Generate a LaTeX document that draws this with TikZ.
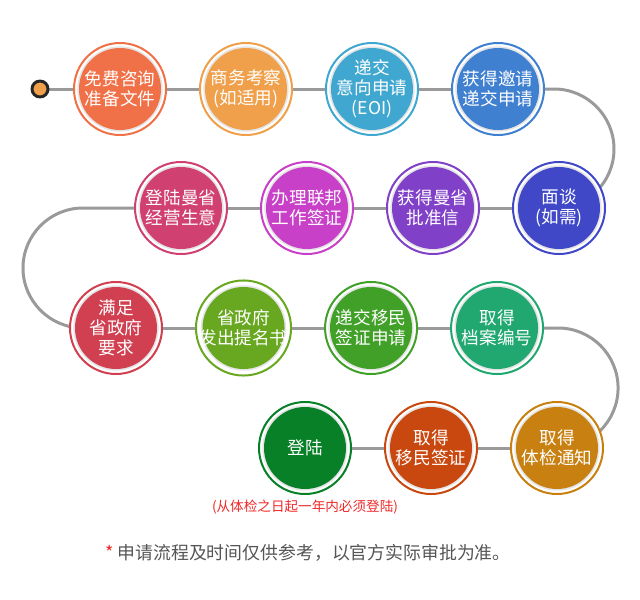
\documentclass[tikz,border=0pt]{standalone}
\usepackage{fontspec}
\newfontfamily\cjk{Noto Sans CJK SC}
\definecolor{stepFree}{HTML}{F07048}
\definecolor{stepBiz}{HTML}{F0A04A}
\definecolor{stepEoi}{HTML}{40A8D0}
\definecolor{stepInvite}{HTML}{4080D0}
\definecolor{stepInterview}{HTML}{4048C8}
\definecolor{stepLetter}{HTML}{8040C8}
\definecolor{stepFederal}{HTML}{C840C8}
\definecolor{stepBusiness}{HTML}{D04070}
\definecolor{stepMeet}{HTML}{D04050}
\definecolor{stepNominate}{HTML}{68A820}
\definecolor{stepApply}{HTML}{40A028}
\definecolor{stepFile}{HTML}{20A870}
\definecolor{stepMedical}{HTML}{C88010}
\definecolor{stepVisa}{HTML}{C84810}
\definecolor{stepLanding}{HTML}{088028}
\definecolor{lineGray}{HTML}{9A9A9A}
\definecolor{noteRed}{HTML}{F02828}
\definecolor{footGray}{HTML}{555555}
\usepackage{tikz}
\usetikzlibrary{positioning, backgrounds}

\begin{document}
\begin{tikzpicture}[
    x=0.75pt, y=-0.75pt,
    node distance=25.5pt,
    link/.style={draw=lineGray, line width=2.25pt},
    stepnode/.style={circle, draw=#1, line width=1.5pt, fill=white, minimum size=69pt, inner sep=0pt, outer sep=0pt,
      text=white, align=center, font=\cjk\fontsize{13.2}{15}\selectfont,
      path picture={
        \fill[black!10] (path picture bounding box.center) circle[radius=32pt];
        \fill[#1] (path picture bounding box.center) circle[radius=30.75pt];
      }}
  ]
  \useasboundingbox (0,0) rectangle (640,600);

  \node[circle, draw=black!85, line width=2.2pt, fill=stepBiz, minimum size=12pt, inner sep=0pt] (start) at (40,89) {};

  % row 1
  \node[stepnode=stepFree] (free) at (120,89) {免费咨询\\准备文件};
  \node[stepnode=stepBiz, right=of free] (biz) {商务考察\\(如适用)};
  \node[stepnode=stepEoi, right=of biz] (eoi) {递交\\意向申请\\(EOI)};
  \node[stepnode=stepInvite, right=of eoi] (invite) {获得邀请\\递交申请};

  % row 2
  \node[stepnode=stepInterview] (interview) at (559,208) {面谈\\(如需)};
  \node[stepnode=stepLetter, left=of interview] (letter) {获得曼省\\批准信};
  \node[stepnode=stepFederal, left=of letter] (federal) {办理联邦\\工作签证};
  \node[stepnode=stepBusiness, left=of federal] (business) {登陆曼省\\经营生意};

  % row 3
  \node[stepnode=stepMeet] (meet) at (116,328) {满足\\省政府\\要求};
  \node[stepnode=stepNominate, right=of meet] (nominate) {省政府\\发出提名书};
  \node[stepnode=stepApply, right=of nominate] (apply) {递交移民\\签证申请};
  \node[stepnode=stepFile, right=of apply] (file) {取得\\档案编号};

  % row 4
  \node[stepnode=stepMedical] (medical) at (557,448) {取得\\体检通知};
  \node[stepnode=stepVisa, left=of medical] (visa) {取得\\移民签证};
  \node[stepnode=stepLanding, left=of visa] (landing) {登陆};

  \node[below=1pt of landing, font=\cjk\fontsize{10.2}{12}\selectfont, text=noteRed] (note) {(从体检之日起一年内必须登陆)};
  \node[font=\cjk\fontsize{13.4}{15}\selectfont, text=footGray] (foot) at (308,553) {\textcolor{noteRed}{*} 申请流程及时间仅供参考，以官方实际审批为准。};

  \begin{scope}[on background layer]
    \draw[link] (start) -- (free) -- (biz) -- (eoi) -- (invite);
    \draw[link] (invite.east) -- ++(10,0) arc[start angle=-90, end angle=90, radius=60] -- (interview);
    \draw[link] (interview) -- (letter) -- (federal) -- (business);
    \draw[link] (business.west) -- ++(-52,0) arc[start angle=-90, end angle=-270, radius=60] -- (meet);
    \draw[link] (meet) -- (nominate) -- (apply) -- (file);
    \draw[link] (file.east) -- ++(15,0) arc[start angle=-90, end angle=90, radius=60] -- (medical);
    \draw[link] (medical) -- (visa) -- (landing);
  \end{scope}
\end{tikzpicture}
\end{document}
